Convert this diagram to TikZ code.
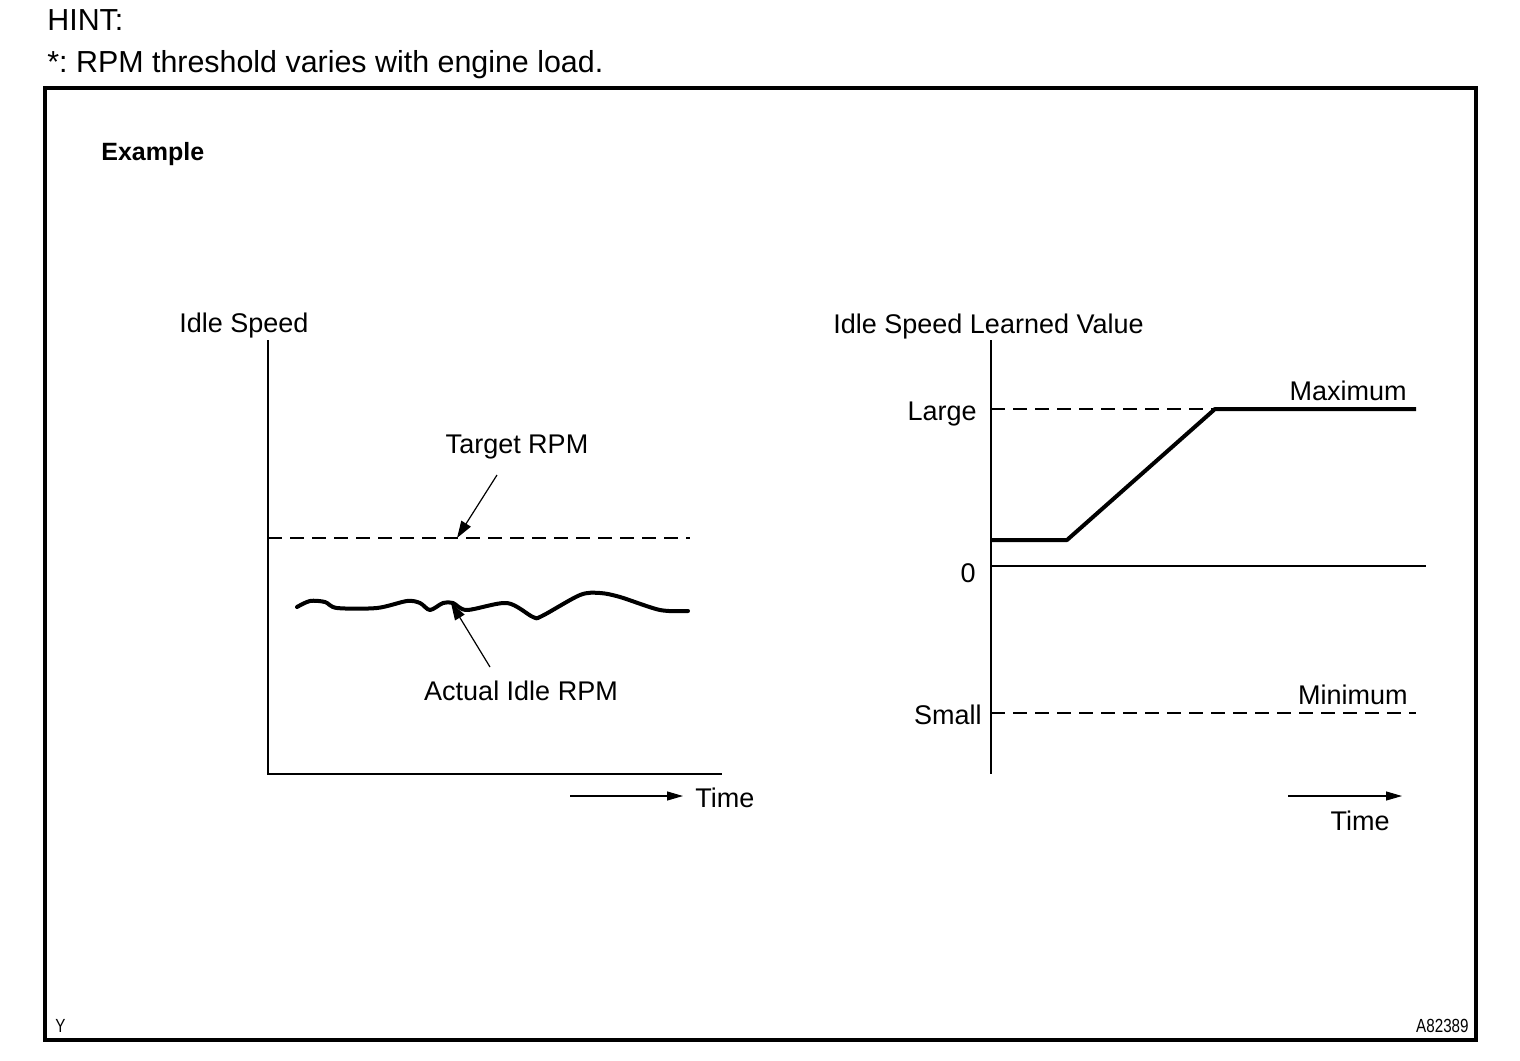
\documentclass[tikz,border=0pt]{standalone}
\usepackage{fontspec}
\setmainfont{Liberation Sans}
\usetikzlibrary{arrows.meta}
\frenchspacing
\begin{document}
\begin{tikzpicture}[x=0.5pt,y=-0.5pt,
  lbl/.style={inner sep=0pt,font=\fontsize{13.5}{16}\selectfont},
  hdr/.style={inner sep=0pt,font=\fontsize{15.2}{18}\selectfont},
  axis/.style={line width=1pt},
  thickln/.style={line width=2pt,line join=round,line cap=round},
  dashln/.style={line width=1pt,dash pattern=on 7pt off 4pt},
  lead/.style={line width=0.6pt,-{Triangle[length=8.5pt,width=5.5pt]}},
  timearr/.style={line width=0.6pt,-{Triangle[length=8pt,width=4.5pt]}}]
\useasboundingbox (0,0) rectangle (1520,1060);
% header
\node[hdr,anchor=base west] (hint) at (47,30) {HINT:};
\node[hdr,anchor=base west] (note) at (47,72) {*:\ RPM threshold varies with engine load.};
% frame
\draw[line width=1.6pt] (45,88) rectangle (1476,1040);
\node[inner sep=0pt,anchor=base west,font=\fontsize{12.5}{15}\selectfont\bfseries] (ex) at (101,160) {Example};
\node[inner sep=0pt,anchor=base west,font=\fontsize{9.5}{11}\selectfont] (y) at (55,1032) {\scalebox{0.8}[1]{Y}};
\node[inner sep=0pt,anchor=base east,font=\fontsize{9.5}{11}\selectfont] (code) at (1469,1032) {\scalebox{0.8}[1]{A82389}};
% ---------- left chart
\coordinate (lO) at (268,774);
\coordinate (lT) at (268,340);
\coordinate (lX) at (722,774);
\draw[axis] (lT) -- (lO) -- (lX);
\node[lbl,anchor=base west] (idle) at (179,332) {Idle Speed};
\coordinate (tgA) at (268,538);
\coordinate (tgB) at (690,538);
\draw[dashln] (tgA) -- (tgB);
\node[lbl,anchor=base] (tgt) at (517,453) {Target RPM};
\coordinate (tgS) at (497,475);
\coordinate (tgE) at (457,538);
\draw[lead] (tgS) -- (tgE);
\draw[thickln] plot[smooth,tension=0.5] coordinates {(297,607) (310,601) (325,602) (337,608) (377,608) (407,601) (420,603) (430,610) (443,603) (453,603) (467,610) (507,603) (533,617) (542,616) (580,595) (600,593) (620,597) (660,610) (688,611)};
\node[lbl,anchor=base] (act) at (521,700) {Actual Idle RPM};
\coordinate (acS) at (490,667);
\coordinate (acE) at (451,603);
\draw[lead] (acS) -- (acE);
\coordinate (lt1) at (570,796);
\coordinate (lt2) at (683,796);
\draw[timearr] (lt1) -- (lt2);
\node[lbl,anchor=base west] (ltime) at (695,807) {Time};
% ---------- right chart
\coordinate (rT) at (991,340);
\coordinate (rB) at (991,774);
\draw[axis] (rT) -- (rB);
\coordinate (z1) at (991,566);
\coordinate (z2) at (1426,566);
\draw[axis] (z1) -- (z2);
\node[lbl,anchor=base west] (lv) at (833,333) {Idle Speed Learned Value};
\node[lbl,anchor=base east] (large) at (977,420) {Large};
\node[lbl,anchor=base east] (zero) at (976,582) {0};
\node[lbl,anchor=base east] (small) at (982,724) {Small};
\node[lbl,anchor=base east] (max) at (1407,400) {Maximum};
\node[lbl,anchor=base east] (min) at (1408,704) {Minimum};
\coordinate (lg1) at (991,409);
\coordinate (lg2) at (1215,409);
\coordinate (lg3) at (1416,409);
\draw[dashln] (lg1) -- (lg2);
\coordinate (sv1) at (991,540);
\coordinate (sv2) at (1067,540);
\draw[thickln,line cap=butt] (sv1) -- (sv2) -- (lg2) -- (lg3);
\coordinate (sm1) at (991,713);
\coordinate (sm2) at (1416,713);
\draw[dashln] (sm1) -- (sm2);
\coordinate (rt1) at (1288,796);
\coordinate (rt2) at (1402,796);
\draw[timearr] (rt1) -- (rt2);
\node[lbl,anchor=base] (rtime) at (1360,830) {Time};
\end{tikzpicture}
\end{document}
